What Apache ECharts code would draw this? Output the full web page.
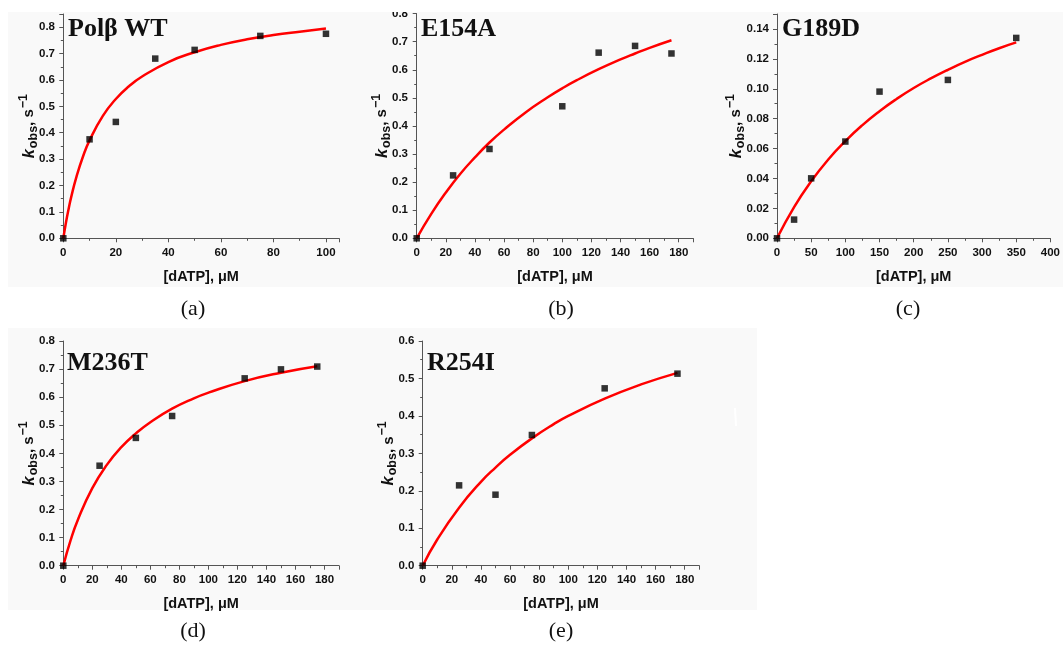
<!DOCTYPE html>
<html>
<head>
<meta charset="utf-8">
<script src="https://cdn.jsdelivr.net/npm/echarts@6/dist/echarts.min.js"></script>
<style>
  html, body { margin: 0; padding: 0; background: #fff; }
  #chart { width: 1063px; height: 645px; }
</style>
</head>
<body>
<div id="chart"></div>
<script>
// (a) Pol beta WT
const wtDose = [0, 10, 20, 35, 50, 75, 100];
const wtRate = [0, 0.375, 0.441, 0.681, 0.714, 0.767, 0.775];
const wtFitDose = [0, 1, 2, 3, 5, 7.5, 10, 15, 20, 25, 30, 40, 50, 60, 70, 80, 90, 100];
const wtFitRate = [0, 0.059, 0.110, 0.156, 0.233, 0.310, 0.371, 0.463, 0.528, 0.576, 0.613, 0.668, 0.705, 0.733, 0.754, 0.770, 0.783, 0.795];

// (b) E154A
const e154aDose = [0, 25, 50, 100, 125, 150, 175];
const e154aRate = [0, 0.224, 0.318, 0.470, 0.661, 0.685, 0.658];
const e154aFitDose = [0, 10, 20, 30, 40, 50, 60, 75, 90, 100, 110, 125, 140, 150, 160, 175];
const e154aFitRate = [0, 0.087, 0.163, 0.230, 0.288, 0.341, 0.387, 0.449, 0.502, 0.534, 0.563, 0.602, 0.637, 0.658, 0.678, 0.705];

// (c) G189D
const g189dDose = [0, 25, 50, 100, 150, 250, 350];
const g189dRate = [0, 0.0125, 0.0401, 0.0647, 0.0981, 0.1059, 0.134];
const g189dFitDose = [0, 25, 50, 75, 100, 125, 150, 175, 200, 225, 250, 275, 300, 325, 350];
const g189dFitRate = [0, 0.0209, 0.0381, 0.0527, 0.0650, 0.0757, 0.0850, 0.0932, 0.1005, 0.1069, 0.1127, 0.1180, 0.1227, 0.1271, 0.1310];

// (d) M236T
const m236tDose = [0, 25, 50, 75, 125, 150, 175];
const m236tRate = [0, 0.356, 0.455, 0.533, 0.667, 0.699, 0.709];
const m236tFitDose = [0, 5, 10, 20, 30, 40, 50, 60, 75, 90, 100, 125, 150, 175];
const m236tFitRate = [0, 0.090, 0.163, 0.276, 0.359, 0.422, 0.471, 0.511, 0.559, 0.596, 0.616, 0.657, 0.687, 0.710];

// (e) R254I
const r254iDose = [0, 25, 50, 75, 125, 175];
const r254iRate = [0, 0.2145, 0.1896, 0.349, 0.4736, 0.5128];
const r254iFitDose = [0, 10, 25, 40, 50, 60, 75, 90, 100, 125, 150, 175];
const r254iFitRate = [0, 0.070, 0.155, 0.224, 0.262, 0.296, 0.340, 0.378, 0.400, 0.446, 0.484, 0.515];

const panelNames = ['Polβ WT', 'E154A', 'G189D', 'M236T', 'R254I'];
const captions = ['(a)', '(b)', '(c)', '(d)', '(e)'];

const zip = (xs, ys) => xs.map((x, i) => [x, ys[i]]);

// layout of each panel (pixel positions of the data origin etc.)
const panels = [
    { pts: zip(wtDose, wtRate), fit: zip(wtFitDose, wtFitRate),
      grid: { left: 63.3, top: 14, width: 275.8, height: 224.3 },
      xMax: 105, xInt: 20, yMax: 0.85, yInt: 0.1, digits: 1,
      xOff: 2.7, yOff: 2.3, yGap: 20, label: [68, 29], cap: [193, 309] },
    { pts: zip(e154aDose, e154aRate), fit: zip(e154aFitDose, e154aFitRate),
      grid: { left: 416.7, top: 13.6, width: 276.6, height: 224.7 },
      xMax: 190, xInt: 20, yMax: 0.8, yInt: 0.1, digits: 1,
      xOff: 2.7, yOff: 2.7, yGap: 20, label: [421, 29], cap: [561, 309] },
    { pts: zip(g189dDose, g189dRate), fit: zip(g189dFitDose, g189dFitRate),
      grid: { left: 777, top: 14, width: 277, height: 224.3 },
      xMax: 400, xInt: 50, yMax: 0.15, yInt: 0.02, digits: 2,
      xOff: 2.7, yOff: 2, yGap: 27, label: [782, 29], cap: [908, 309] },
    { pts: zip(m236tDose, m236tRate), fit: zip(m236tFitDose, m236tFitRate),
      grid: { left: 63.3, top: 341, width: 275.7, height: 224.7 },
      xMax: 190, xInt: 20, yMax: 0.8, yInt: 0.1, digits: 1,
      xOff: 2.6, yOff: 2.3, yGap: 20, label: [67, 363], cap: [193, 631] },
    { pts: zip(r254iDose, r254iRate), fit: zip(r254iFitDose, r254iFitRate),
      grid: { left: 422.7, top: 341, width: 276.6, height: 224.7 },
      xMax: 190, xInt: 20, yMax: 0.6, yInt: 0.1, digits: 1,
      xOff: 2.6, yOff: 2.3, yGap: 20, label: [427, 363], cap: [561, 631] }
];

const axisColor = '#555';
const labelFont = { color: '#111', fontFamily: 'Liberation Sans, Arial, sans-serif', fontWeight: 'bold', fontSize: 11.5 };
const isStep = (v, step) => Math.abs(v / step - Math.round(v / step)) < 1e-6;

let option = {
    backgroundColor: '#fff',
    animation: false,
    grid: [],
    xAxis: [],
    yAxis: [],
    series: [],
    graphic: [
        { type: 'rect', z: -10, shape: { x: 8, y: 12, width: 1055, height: 275 }, style: { fill: '#f9f9f9' } },
        { type: 'rect', z: -10, shape: { x: 8, y: 328, width: 749, height: 282 }, style: { fill: '#f9f9f9' } },
        // the top of panel (b) is cropped in the original
        { type: 'rect', z: 100, shape: { x: 360, y: 0, width: 340, height: 12 }, style: { fill: '#fff' } },
        { type: 'line', z: 100, shape: { x1: 735, y1: 408, x2: 736, y2: 426 }, style: { stroke: '#fff', lineWidth: 2 } }
    ]
};

panels.forEach((p, i) => {
    option.grid.push(Object.assign({ containLabel: false }, p.grid));
    option.xAxis.push({
        type: 'value', gridIndex: i, min: 0, max: p.xMax, interval: p.xInt,
        offset: p.xOff,
        name: '[dATP], μM', nameLocation: 'middle', nameGap: 28, nameMoveOverlap: false,
        nameTextStyle: { color: '#111', fontFamily: 'Liberation Sans, Arial, sans-serif', fontWeight: 'bold', fontSize: 14.5 },
        axisLine: { lineStyle: { color: axisColor, width: 1 } },
        axisTick: { length: 4, lineStyle: { color: axisColor } },
        minorTick: { show: true, splitNumber: 2, length: 2.5, lineStyle: { color: axisColor } },
        axisLabel: Object.assign({ margin: 6, formatter: v => isStep(v, p.xInt) ? String(Math.round(v)) : '' }, labelFont),
        splitLine: { show: false }
    });
    option.yAxis.push({
        type: 'value', gridIndex: i, min: 0, max: p.yMax, interval: p.yInt,
        offset: p.yOff,
        name: '{k|k}{sub|obs}{m|, s}{sup|−1}', nameLocation: 'middle', nameGap: p.yGap, nameRotate: 90,
        nameMoveOverlap: false,
        nameTextStyle: {
            color: '#111', fontFamily: 'Liberation Sans, Arial, sans-serif', fontWeight: 'bold',
            rich: {
                k: { fontSize: 16.5, fontStyle: 'italic', fontWeight: 'bold', color: '#111', lineHeight: 24 },
                sub: { fontSize: 12.5, fontWeight: 'bold', color: '#111', padding: [9, 0, 0, 1] },
                m: { fontSize: 15, fontWeight: 'bold', color: '#111' },
                sup: { fontSize: 12.5, fontWeight: 'bold', color: '#111', padding: [0, 0, 11, 1] }
            }
        },
        axisLine: { lineStyle: { color: axisColor, width: 1 } },
        axisTick: { length: 4, lineStyle: { color: axisColor } },
        minorTick: { show: true, splitNumber: 2, length: 2.5, lineStyle: { color: axisColor } },
        axisLabel: Object.assign({ margin: 6, formatter: v => isStep(v, p.yInt) ? v.toFixed(p.digits) : '' }, labelFont),
        splitLine: { show: false }
    });
    option.series.push({
        type: 'line', xAxisIndex: i, yAxisIndex: i, data: p.fit,
        showSymbol: false, smooth: 0.5,
        lineStyle: { color: '#ff0000', width: 2.5 }, z: 3
    });
    option.series.push({
        type: 'scatter', xAxisIndex: i, yAxisIndex: i, data: p.pts,
        symbol: 'rect', symbolSize: 6.5, itemStyle: { color: '#000' }, z: 4
    });
    option.graphic.push({
        type: 'text', x: p.label[0], y: p.label[1], z: 50,
        style: { text: panelNames[i], font: 'bold 26px "Liberation Serif", "Times New Roman", serif', fill: '#111', verticalAlign: 'middle' }
    });
    option.graphic.push({
        type: 'text', x: p.cap[0], y: p.cap[1], z: 50,
        style: { text: captions[i], font: '22px "Liberation Serif", "Times New Roman", serif', fill: '#111', align: 'center', verticalAlign: 'middle' }
    });
});

let myChart = echarts.init(document.getElementById('chart'), null, { renderer: 'canvas' });
myChart.setOption(option);
</script>
</body>
</html>
